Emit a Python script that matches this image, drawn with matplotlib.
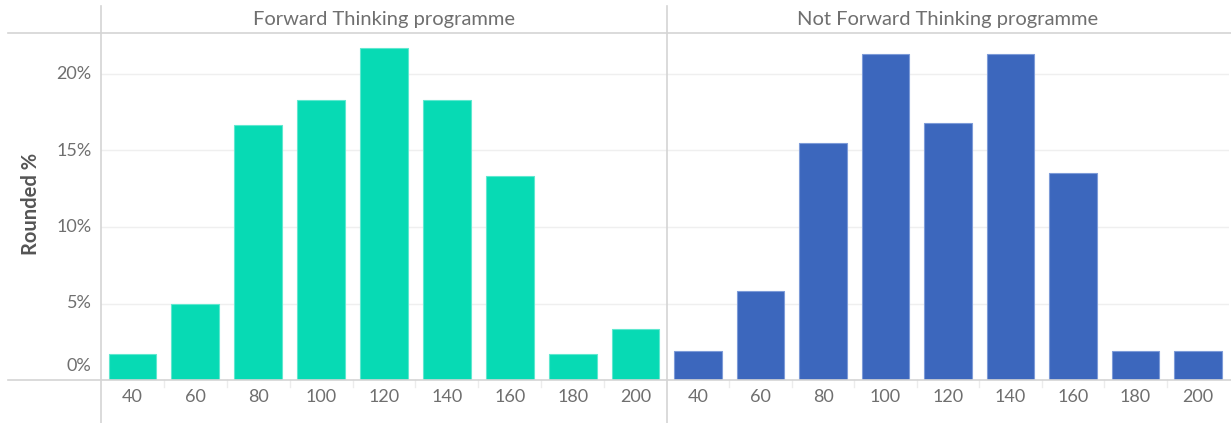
import numpy as np
import matplotlib
matplotlib.use("Agg")
import matplotlib.pyplot as plt
from matplotlib.lines import Line2D

plt.rcParams['font.family'] = ['Lato', 'DejaVu Sans']

# score bins and share of pupils (%) in each group
bins = ['40', '60', '80', '100', '120', '140', '160', '180', '200']
forward_pct = [1.67, 5.0, 16.67, 18.33, 21.67, 18.33, 13.33, 1.67, 3.33]
not_forward_pct = [1.9, 5.8, 15.5, 21.3, 16.8, 21.3, 13.5, 1.9, 1.9]
panel_titles = ['Forward Thinking programme', 'Not Forward Thinking programme']
panel_colors = ['#07DAB4', '#3C67BD']
edge_colors = ['#5fe8cf', '#7d9bd8']
y_ticks = [0, 5, 10, 15, 20]

W, H = 1231, 423
fig = plt.figure(figsize=(W / 100, H / 100), dpi=100)
txt = '#6f6f6f'
rule = '#d4d4d4'
fs = 13


def fx(x):
    return x / W


def fy(y):
    return 1 - y / H


def fig_line(x0, y0, x1, y1, color=rule, lw=1.2):
    fig.add_artist(Line2D([fx(x0), fx(x1)], [fy(y0), fy(y1)],
                          transform=fig.transFigure, color=color, lw=lw))


top, base = 33, 380
panels = [(101, 667), (667, 1229)]
ymax = (base - top) / 76.5 * 5

for k, ((x0, x1), vals) in enumerate(zip(panels, [forward_pct, not_forward_pct])):
    ax = fig.add_axes([fx(x0), fy(base), fx(x1 - x0), (base - top) / H])
    xs = np.arange(len(bins))
    ax.bar(xs, vals, width=0.76, color=panel_colors[k],
           edgecolor=edge_colors[k], linewidth=0.8, zorder=3)
    ax.set_xlim(-0.5, len(bins) - 0.5)
    ax.set_ylim(0, ymax)
    ax.set_yticks(y_ticks[1:])
    ax.yaxis.grid(True, color='#efefef', lw=1.0, zorder=0)
    ax.tick_params(left=False, bottom=False, labelleft=False, labelbottom=False)
    for s in ax.spines.values():
        s.set_visible(False)
    ax.set_facecolor('none')

    # category labels and faint separators under the baseline
    for i, b in enumerate(bins):
        ax.text(i, -0.048, b, transform=ax.get_xaxis_transform(),
                ha='center', va='center', fontsize=fs, color=txt)
        if i > 0:
            ax.plot([i - 0.5, i - 0.5], [0, -0.02], transform=ax.get_xaxis_transform(),
                    color='#ececec', lw=1, clip_on=False)

    fig.text(fx((x0 + x1) / 2), fy(19), panel_titles[k], ha='center', va='center',
             fontsize=14.5, color=txt)

    if k == 0:
        for t in y_ticks:
            ty = t if t > 0 else 0.9
            ax.text(-0.017, ty, f'{t}%', transform=ax.get_yaxis_transform(),
                    ha='right', va='center', fontsize=fs, color=txt)

fig.text(fx(31), fy(204), 'Rounded %', rotation=90, ha='center', va='center',
         fontsize=14.5, fontweight='bold', color='#555555')

# frame rules
fig_line(8, top, W, top)
fig_line(8, base, W, base)
fig_line(101, 6, 101, H)
fig_line(667, 6, 667, H)

fig.savefig('out.png', dpi=100)
